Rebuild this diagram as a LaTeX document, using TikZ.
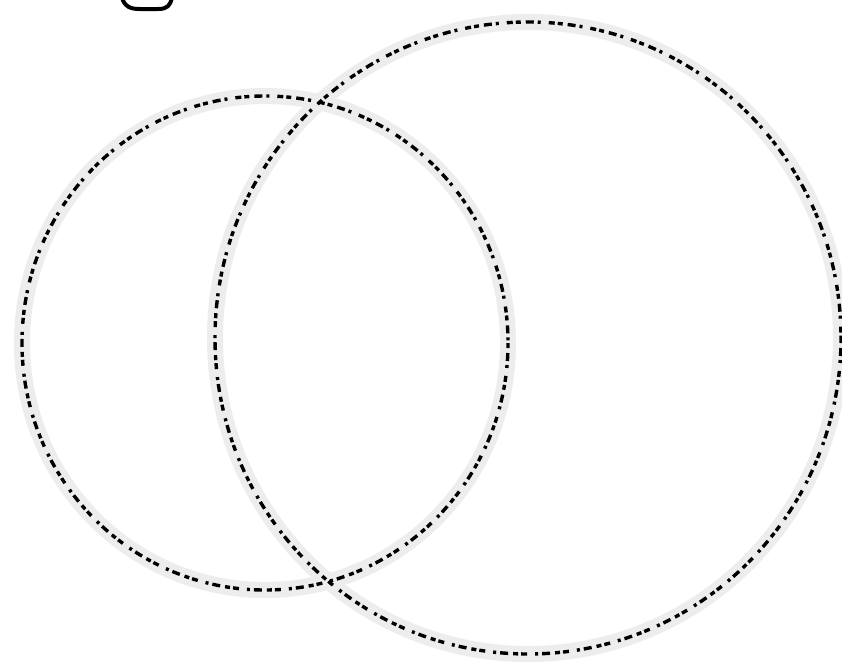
\documentclass[tikz,border=0pt]{standalone}
\begin{document}
\begin{tikzpicture}[x=1pt,y=-1pt,
  halo/.style={draw=black!7,line width=16pt},
  ring/.style={draw=black,line width=3.4pt,dash pattern=on 5pt off 5pt on 8pt off 4pt on 3pt off 8pt on 6pt off 3pt}]
\useasboundingbox[fill=white] (0,0) rectangle (842,662);
\coordinate (cl) at (265,343);
\coordinate (cr) at (528,338);
\path[halo] (cl) ellipse [x radius=243, y radius=247];
\path[halo] (cr) ellipse [x radius=313, y radius=316];
\path[ring] (cl) ellipse [x radius=243, y radius=247];
\path[ring] (cr) ellipse [x radius=313, y radius=316];
\draw[line width=4pt,line cap=round] (122,-2) .. controls (126,10) and (135,9) .. (145,9) -- (158,9) .. controls (168,9) and (170,5) .. (172,-2);
\end{tikzpicture}
\end{document}
